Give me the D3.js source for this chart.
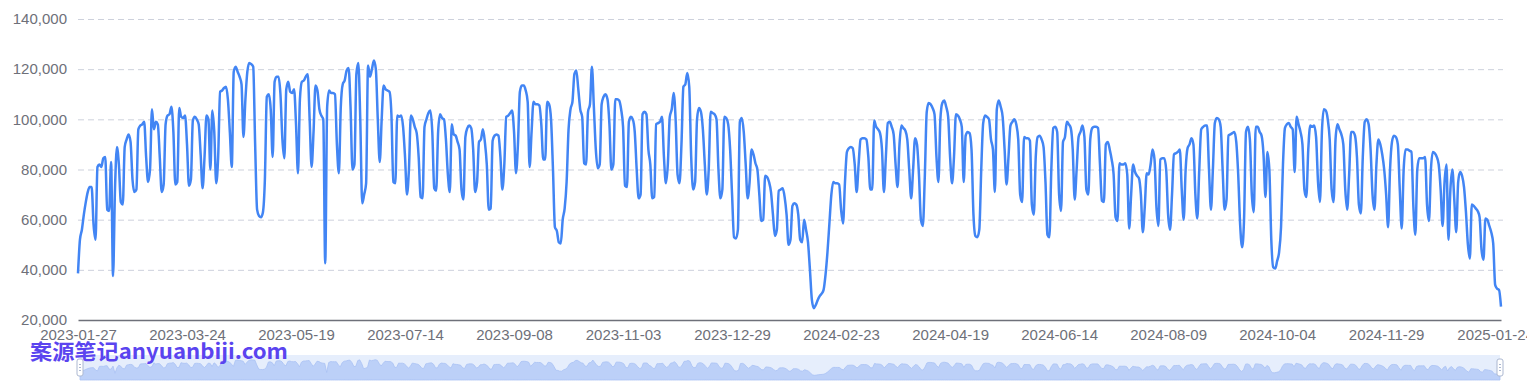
<!DOCTYPE html>
<html>
<head>
<meta charset="utf-8">
<script src="https://cdn.jsdelivr.net/npm/d3@7"></script>
<style>
  body { margin: 0; background: #fff; }
  svg { display: block; font-family: "Noto Sans CJK SC", "Noto Sans", sans-serif; }
</style>
</head>
<body>
<svg id="chart" width="1540" height="389"></svg>
<script>
// daily series, first day below, one value per day
const startDate = "2023-01-27";

const xTickLabels = ["2023-01-27", "2023-03-24", "2023-05-19", "2023-07-14", "2023-09-08", "2023-11-03",
  "2023-12-29", "2024-02-23", "2024-04-19", "2024-06-14", "2024-08-09", "2024-10-04", "2024-11-29", "2025-01-24"];

const yTicks = [20000, 40000, 60000, 80000, 100000, 120000, 140000];

const values = [
  38600, 52000, 56000, 62000, 67000, 71000, 73000, 73000, 58000, 52000,
  81000, 82000, 81000, 84500, 85000, 64000, 63500, 83000, 37500, 72000,
  89000, 82000, 67000, 66000, 89000, 92000, 94000, 91000, 76000, 71000,
  72000, 96000, 97500, 98000, 99000, 85000, 75000, 80000, 104000, 96000,
  99000, 98000, 85000, 71000, 74000, 98000, 101500, 102000, 105000, 95000,
  74000, 75000, 104500, 101000, 100500, 101500, 90000, 73500, 76000, 99500,
  101000, 100000, 98000, 86000, 72500, 85000, 101500, 100000, 80000, 103500,
  95000, 74500, 85000, 111000, 111500, 112500, 113000, 108000, 95000, 81000,
  119000, 121000, 119000, 117000, 114000, 93000, 108000, 119000, 122500, 122000,
  121000, 90000, 64000, 61500, 61000, 63000, 76000, 109000, 110000, 104000,
  85000, 115000, 117000, 117000, 110000, 92000, 84500, 112000, 115000, 111000,
  110500, 112000, 98000, 78500, 108000, 115000, 115500, 117000, 118000, 100000,
  81000, 95000, 113500, 111500, 104000, 101500, 100000, 42600, 105000, 111500,
  110500, 110500, 110000, 90000, 78500, 105000, 114000, 115500, 119500, 120500,
  105000, 80000, 82000, 118000, 122500, 100000, 66500, 70000, 74500, 121500,
  117000, 120000, 123500, 120000, 100000, 83000, 100000, 113500, 112000, 111500,
  111000, 102000, 75000, 74500, 101500, 101000, 101500, 97000, 85000, 70000,
  80000, 101500, 100000, 97000, 94500, 85000, 69000, 68500, 97000, 100000,
  102500, 103500, 95000, 72500, 71500, 95000, 102000, 100500, 100000, 92000,
  78000, 71000, 98000, 94000, 93500, 91000, 88000, 72000, 68000, 93000,
  96500, 97500, 96500, 88000, 71000, 75000, 91000, 92000, 96000, 91000,
  82000, 64000, 64500, 91500, 93500, 94000, 93500, 85000, 72000, 82000,
  101000, 101500, 102500, 103500, 95000, 78500, 90000, 111000, 113500, 113500,
  111500, 107000, 81000, 95000, 107000, 106000, 106000, 105500, 98000, 84000,
  84000, 107000, 106000, 100000, 80000, 57000, 55500, 51000, 50500, 60000,
  64500, 75000, 96000, 104000, 107000, 118000, 119500, 112000, 104000, 101000,
  82500, 82000, 103000, 106000, 121000, 105000, 88000, 80500, 82000, 106000,
  109000, 110000, 108000, 98000, 80000, 82000, 108000, 108000, 107500, 104000,
  97000, 73500, 73000, 99000, 101000, 100000, 95000, 80000, 68500, 70000,
  102000, 103000, 102000, 88000, 82000, 68500, 69000, 98000, 98500, 99000,
  101000, 85000, 74500, 82000, 101000, 104000, 110500, 100000, 78000, 74500,
  90000, 113000, 114000, 118500, 113000, 85000, 72000, 75000, 100000, 104500,
  103000, 96000, 82000, 70000, 80000, 103000, 102500, 102000, 100000, 80000,
  68500, 72000, 101000, 100500, 98000, 88000, 70000, 53000, 52500, 56000,
  99000, 100500, 95000, 82000, 68500, 75000, 88000, 86000, 82500, 80000,
  70000, 59500, 60000, 77500, 77000, 75000, 71000, 62000, 53500, 56000,
  71500, 72000, 72500, 69000, 62000, 50000, 52000, 65500, 66500, 66000,
  62000, 52000, 51000, 60000, 56000, 51000, 40000, 28000, 24700, 26000,
  28000, 29500, 30500, 32000, 38000, 47000, 58500, 70000, 75000, 74500,
  74500, 74000, 64000, 58500, 75000, 87000, 88500, 89000, 88500, 82000,
  71000, 82000, 92000, 92500, 92500, 92000, 85000, 72000, 72000, 99500,
  97000, 96000, 94500, 88000, 71000, 85000, 98500, 99000, 97000, 94000,
  82000, 73000, 90000, 97500, 96500, 95500, 92000, 80000, 68500, 80000,
  92500, 90000, 78000, 60000, 57500, 77000, 103000, 106500, 106000, 104500,
  102000, 85000, 75000, 100000, 106500, 107500, 105000, 101000, 85000, 74500,
  85000, 102000, 101500, 100000, 97000, 75000, 93500, 95000, 94500, 88000,
  62000, 53500, 53000, 56000, 80000, 98500, 101500, 101000, 100000, 92000,
  88000, 71000, 104000, 107500, 105000, 101000, 88000, 74000, 85000, 97500,
  99000, 100000, 98000, 92000, 70000, 67000, 93000, 92500, 92500, 91500,
  66000, 62000, 85000, 93000, 93500, 92000, 89000, 75000, 54000, 53000,
  80000, 96500, 97000, 95000, 70000, 63500, 91000, 93000, 99000, 98000,
  96500, 88000, 68000, 80000, 93000, 95000, 97500, 93000, 72000, 70000,
  92000, 96500, 97000, 97000, 96500, 82000, 67500, 67000, 90000, 91000,
  88000, 84000, 78000, 61000, 59500, 82500, 82000, 82000, 82500, 78000,
  56500, 70000, 82000, 79000, 77500, 76500, 70000, 55000, 65000, 78500,
  78000, 82000, 88000, 84000, 65000, 57500, 84000, 84500, 84500, 80000,
  62000, 56000, 70000, 86000, 86500, 87000, 88000, 72000, 60000, 80000,
  88500, 90000, 92500, 90000, 70000, 60500, 80000, 96000, 97000, 97500,
  97500, 80000, 64000, 80000, 98500, 100500, 100000, 97000, 80000, 64000,
  68000, 93500, 94000, 94500, 95000, 91000, 78000, 58000, 49000, 60000,
  95000, 97000, 92000, 70000, 63000, 97000, 97000, 95000, 93500, 86000,
  69000, 87000, 80000, 52000, 41000, 40500, 43500, 47000, 57000, 82000,
  96500, 98000, 98500, 97000, 96000, 79000, 101000, 98000, 95000, 90000,
  72000, 69000, 88000, 97500, 97000, 97500, 93000, 75000, 67000, 95000,
  104000, 103500, 100000, 92000, 72000, 67000, 92000, 98000, 96000, 94000,
  90000, 72000, 64000, 78000, 95000, 95000, 93500, 85000, 66000, 62500,
  85000, 99000, 100000, 98000, 88000, 70000, 64000, 82000, 92000, 90000,
  86000, 80000, 70000, 57000, 80000, 91000, 93500, 93000, 90000, 72000,
  56500, 80000, 88000, 88000, 87500, 87000, 65000, 54000, 80000, 84500,
  84500, 84500, 85000, 66000, 59500, 80000, 87000, 86500, 85000, 82000,
  72000, 57500, 75000, 82000, 52000, 72000, 80000, 68000, 55000, 75000,
  79000, 77500, 73000, 63000, 50000, 44500, 66000, 65500, 64500, 63500,
  61000, 48000, 44000, 60500, 60000, 57500, 55000, 50500, 34000, 32500,
  32000, 25300
];

const parseDate = d3.timeParse("%Y-%m-%d");
const fmtDate = d3.timeFormat("%Y-%m-%d");
const t0 = parseDate(startDate);
const dates = d3.timeDay.range(t0, d3.timeDay.offset(t0, values.length)).map(fmtDate);
const data = dates.map((d, i) => ({ date: d, value: values[i] }));

const gLeft = 78, gRight = 1501, gTop = 19, gBottom = 320;
const svg = d3.select("#chart");

// the chart box is a bit narrower than the page, last label gets cut
svg.append("defs").append("clipPath").attr("id", "box")
  .append("rect").attr("x", 0).attr("y", 0).attr("width", 1527).attr("height", 389);

const x = d3.scalePoint().domain(dates).range([gLeft, gRight]);
const y = d3.scaleLinear().domain([20000, 140000]).range([gBottom, gTop]);

// dashed grid lines
svg.append("g")
  .attr("transform", `translate(${gLeft},0)`)
  .call(d3.axisLeft(y).tickValues(yTicks.slice(1)).tickSize(-(gRight - gLeft + 2)).tickFormat(""))
  .call(g => g.select(".domain").remove())
  .call(g => g.selectAll(".tick line")
    .attr("stroke", "#cdd1dc")
    .attr("stroke-width", 1)
    .attr("stroke-dasharray", "6,4"));

// y labels
svg.append("g")
  .attr("transform", `translate(${gLeft},0)`)
  .call(d3.axisLeft(y).tickValues(yTicks).tickSize(0).tickPadding(11).tickFormat(d3.format(",")))
  .call(g => g.select(".domain").remove())
  .call(g => g.selectAll("text")
    .attr("fill", "#6e7079")
    .style("font-size", "15px"));

// x axis
svg.append("g")
  .attr("clip-path", "url(#box)")
  .append("g")
  .attr("transform", `translate(0,${gBottom})`)
  .call(d3.axisBottom(x).tickValues(xTickLabels).tickSize(0).tickSizeOuter(0).tickPadding(9))
  .call(g => g.select(".domain").attr("stroke", "#6e7079").attr("stroke-width", 1.3))
  .call(g => g.selectAll("text")
    .attr("fill", "#6e7079")
    .style("font-size", "15px"));

// the line
const line = d3.line()
  .x(d => x(d.date))
  .y(d => y(d.value))
  .curve(d3.curveMonotoneX);

svg.append("path")
  .datum(data)
  .attr("d", line)
  .attr("fill", "none")
  .attr("stroke", "#4285f4")
  .attr("stroke-width", 2.5)
  .attr("stroke-linejoin", "round");

// zoom slider with data shadow
const sTop = 355, sBottom = 380, sLeft = 80, sRight = 1500;
const sx = d3.scalePoint().domain(dates).range([sLeft, sRight]);
const ext = d3.extent(values);
const pad = (ext[1] - ext[0]) * 0.3;
const sy = d3.scaleLinear().domain([ext[0] - pad, ext[1] + pad]).range([sBottom, sTop]);

svg.append("rect")
  .attr("x", sLeft).attr("y", sTop)
  .attr("width", sRight - sLeft).attr("height", sBottom - sTop)
  .attr("fill", "#e6eefc");

svg.append("path")
  .datum(data)
  .attr("d", d3.area().x(d => sx(d.date)).y0(sBottom).y1(d => sy(d.value)))
  .attr("fill", "#bcd0f8")
  .attr("stroke", "#a9c2f4")
  .attr("stroke-width", 0.8);

[sLeft, sRight].forEach(hx => {
  const h = svg.append("g").attr("transform", `translate(${hx},${(sTop + sBottom) / 2})`);
  h.append("rect")
    .attr("x", -3).attr("y", -8.5)
    .attr("width", 6).attr("height", 17)
    .attr("rx", 2)
    .attr("fill", "#fff")
    .attr("stroke", "#acb8d1");
  [-3, 0, 3].forEach(dy => {
    h.append("line")
      .attr("x1", -1).attr("x2", 1)
      .attr("y1", dy).attr("y2", dy)
      .attr("stroke", "#acb8d1");
  });
});

// watermark
svg.append("text")
  .attr("x", 30)
  .attr("y", 359)
  .attr("textLength", 258)
  .attr("lengthAdjust", "spacingAndGlyphs")
  .style("font-size", "21px")
  .style("font-weight", "bold")
  .attr("fill", "#5a44ef")
  .text("案源笔记anyuanbiji.com");
</script>
</body>
</html>
